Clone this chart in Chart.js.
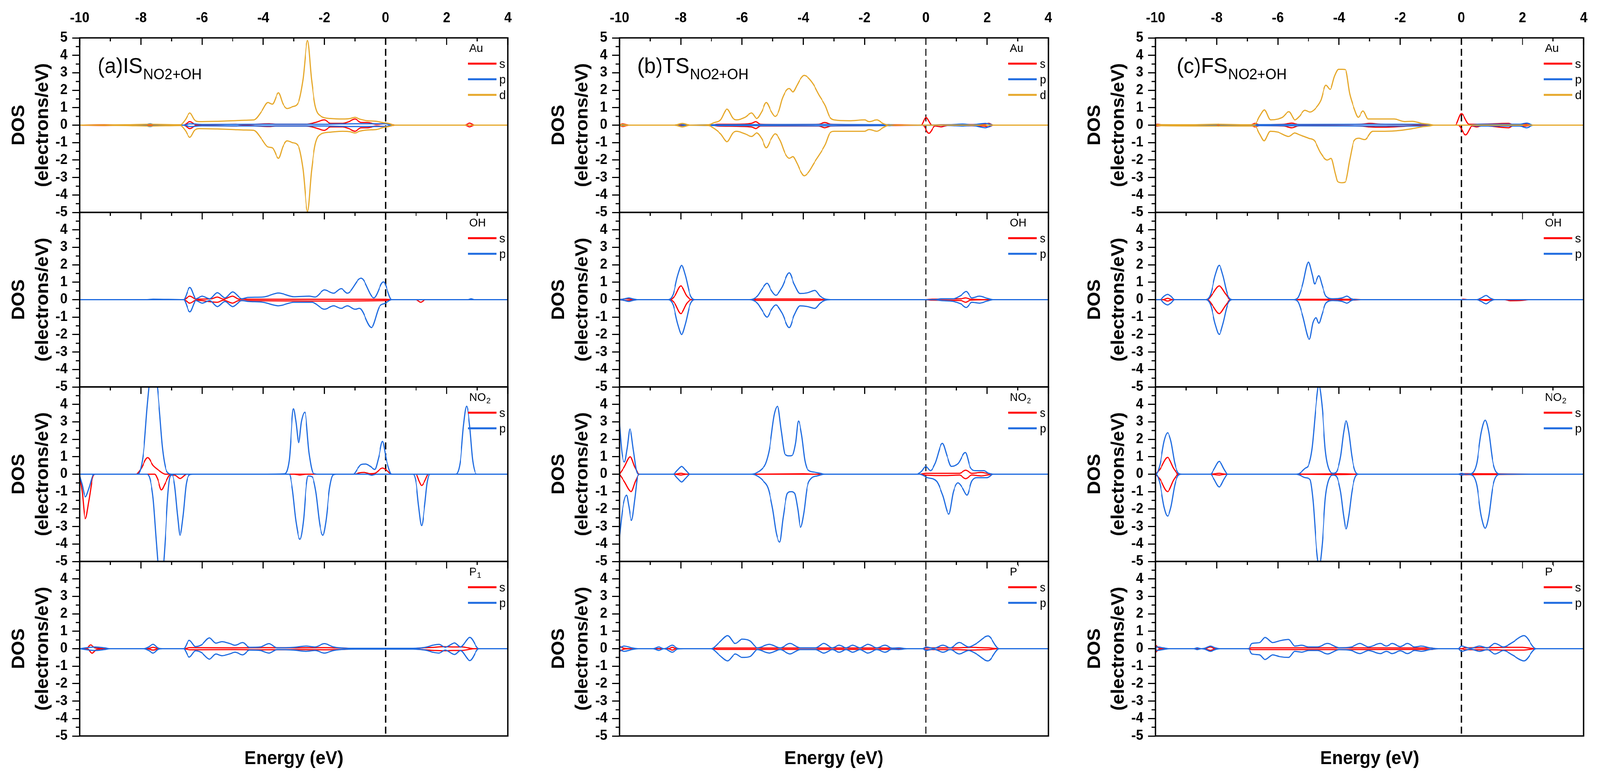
<!DOCTYPE html>
<html>
<head>
<meta charset="utf-8">
<title>PDOS NO2+OH</title>
<script src="https://cdn.jsdelivr.net/npm/chart.js@4.4.1/dist/chart.umd.min.js"></script>
<style>
html, body { margin: 0; padding: 0; background: #fff; overflow: hidden; }
#wrap { position: relative; width: 4313px; height: 2008px; overflow: hidden; transform-origin: 0 0; }
.col { position: absolute; top: 0; height: 2008px; }
</style>
</head>
<body>
<div id="wrap">
  <div class="col" style="left:0px;width:1399px"><canvas id="cA"></canvas></div>
  <div class="col" style="left:1455px;width:1401px"><canvas id="cB"></canvas></div>
  <div class="col" style="left:2900px;width:1399px"><canvas id="cC"></canvas></div>
</div>
<script>
// axis ticks
const energyTicks = [-10, -8, -6, -4, -2, 0, 2, 4];
const dosTicks = [-5, -4, -3, -2, -1, 0, 1, 2, 3, 4, 5];

// ---- (a) IS : [energy, DOS] ----
const isAuSUp = [[-10,0],[-9.2,0.02],[-8.8,0],[-6.6,0],[-6.4,0.2],[-6.2,0.02],[-4.9,0.05],[-4.6,0.02],[-3.8,0.08],[-3.6,0.05],[-2.6,0.05],[-2.3,0.15],[-2.0,0.3],[-1.8,0.1],[-1.4,0.1],[-1.2,0.2],[-1.0,0.35],[-0.8,0.15],[-0.6,0.15],[-0.3,0.05],[0.05,0.1],[0.3,0],[2.6,0],[2.75,0.12],[2.9,0],[4,0]];
const isAuSDn = [[-10,0],[-9.2,-0.02],[-8.8,0],[-6.6,0],[-6.4,-0.2],[-6.2,-0.02],[-4.9,-0.05],[-4.6,-0.02],[-3.8,-0.08],[-3.6,-0.05],[-2.6,-0.05],[-2.3,-0.15],[-2.0,-0.3],[-1.8,-0.1],[-1.4,-0.1],[-1.2,-0.2],[-1.0,-0.35],[-0.8,-0.15],[-0.6,-0.15],[-0.3,-0.05],[0.05,-0.08],[0.3,0],[2.6,0],[2.75,-0.1],[2.9,0],[4,0]];
const isAuPUp = [[-10,0],[-7.9,0],[-7.7,0.08],[-7.5,0],[-6.6,0],[-6.4,0.08],[-6.0,0.04],[-4,0.05],[-2,0.05],[-1,0.08],[0,0.08],[0.2,0],[4,0]];
const isAuPDn = [[-10,0],[-7.9,0],[-7.7,-0.08],[-7.5,0],[-6.6,0],[-6.4,-0.08],[-6.0,-0.04],[-4,-0.05],[-2,-0.05],[-1,-0.08],[0,-0.08],[0.2,0],[4,0]];
const isAuDUp = [[-10,0],[-8.5,0.02],[-7.7,0.05],[-6.7,0.02],[-6.55,0.3],[-6.4,0.7],[-6.25,0.3],[-6.1,0.2],[-5.5,0.22],[-5.0,0.25],[-4.6,0.28],[-4.3,0.3],[-4.05,0.8],[-3.85,1.3],[-3.7,1.2],[-3.5,1.85],[-3.35,1.2],[-3.22,0.95],[-3.05,1.05],[-2.85,1.3],[-2.7,2.6],[-2.55,4.85],[-2.42,2.6],[-2.3,1.1],[-2.1,0.5],[-1.8,0.38],[-1.4,0.35],[-1.15,0.38],[-1.0,0.45],[-0.85,0.35],[-0.6,0.25],[-0.3,0.22],[-0.1,0.15],[0.1,0.1],[0.3,0],[4,0]];
const isAuDDn = [[-10,0],[-8.5,-0.02],[-7.7,-0.05],[-6.7,-0.02],[-6.55,-0.3],[-6.4,-0.7],[-6.25,-0.3],[-6.1,-0.2],[-5.5,-0.22],[-5.0,-0.25],[-4.6,-0.28],[-4.3,-0.3],[-4.05,-0.8],[-3.85,-1.25],[-3.7,-1.3],[-3.5,-1.9],[-3.35,-1.2],[-3.22,-0.9],[-3.05,-1.0],[-2.85,-1.2],[-2.7,-2.5],[-2.55,-4.95],[-2.42,-2.6],[-2.3,-1.1],[-2.1,-0.5],[-1.8,-0.4],[-1.4,-0.35],[-1.15,-0.38],[-1.0,-0.45],[-0.85,-0.35],[-0.6,-0.28],[-0.3,-0.25],[-0.1,-0.15],[0.1,-0.08],[0.3,0],[4,0]];

const isOhSUp = [[-10,0],[-6.6,0],[-6.4,0.2],[-6.2,0.03],[-5.7,0.05],[-5.5,0.15],[-5.3,0.03],[-5.0,0.2],[-4.8,0.03],[-3,0.02],[0,0.02],[0.2,0],[4,0]];
const isOhSDn = [[-10,0],[-6.6,0],[-6.4,-0.2],[-6.2,-0.03],[-5.5,-0.15],[-5.3,-0.03],[-5.0,-0.2],[-4.8,-0.05],[-2.5,-0.08],[0,-0.05],[0.2,0],[1.0,0],[1.15,-0.15],[1.3,0],[4,0]];
const isOhPUp = [[-10,0],[-7.8,0],[-7.6,0.03],[-6.6,0],[-6.4,0.7],[-6.2,0.05],[-6.0,0.2],[-5.75,0.05],[-5.5,0.4],[-5.25,0.1],[-5.0,0.45],[-4.7,0.05],[-4.5,0.13],[-4.0,0.15],[-3.5,0.38],[-3.0,0.17],[-2.5,0.2],[-2.3,0.15],[-2.0,0.56],[-1.7,0.37],[-1.45,0.63],[-1.25,0.37],[-0.8,1.23],[-0.38,0.1],[-0.07,1.02],[0.2,0],[2.7,0],[2.8,0.05],[2.9,0],[4,0]];
const isOhPDn = [[-10,0],[-6.6,0],[-6.4,-0.7],[-6.2,-0.05],[-6.0,-0.2],[-5.75,-0.05],[-5.5,-0.4],[-5.25,-0.1],[-5.0,-0.4],[-4.7,-0.05],[-4.5,-0.1],[-4.0,-0.15],[-3.5,-0.35],[-3.0,-0.15],[-2.4,-0.15],[-2.0,-0.55],[-1.7,-0.35],[-1.45,-0.5],[-1.25,-0.35],[-1.0,-0.55],[-0.85,-0.5],[-0.46,-1.6],[-0.2,-0.4],[0.0,-0.2],[0.2,0],[4,0]];

const isNo2SUp = [[-10,0],[-8.15,0],[-8.0,0.3],[-7.78,0.95],[-7.6,0.5],[-7.4,0.2],[-7.2,0],[-1.0,0],[-0.85,0.08],[-0.7,0.1],[-0.5,0.03],[-0.35,0.05],[-0.1,0.35],[0.05,0.2],[0.2,0],[4,0]];
const isNo2SDn = [[-10,-0.1],[-9.92,-1.0],[-9.82,-2.55],[-9.7,-1.5],[-9.58,-0.2],[-9.5,0],[-7.55,0],[-7.45,-0.3],[-7.33,-0.9],[-7.2,-0.5],[-7.05,-0.05],[-6.9,-0.05],[-6.72,-0.25],[-6.5,0],[-3.0,0],[-2.8,-0.05],[-2.6,0],[1.0,0],[1.1,-0.4],[1.18,-0.65],[1.28,-0.4],[1.4,0],[4,0]];
const isNo2PUp = [[-10,0],[-8.1,0],[-8.0,0.35],[-7.9,1.5],[-7.8,3.8],[-7.7,5.6],[-7.6,6.3],[-7.5,5.6],[-7.4,3.8],[-7.3,1.6],[-7.2,0.4],[-7.1,0.05],[-7.0,0],[-4.0,0],[-3.3,0.02],[-3.15,0.8],[-3.01,3.75],[-2.93,3.0],[-2.84,1.8],[-2.75,3.0],[-2.64,3.55],[-2.5,1.2],[-2.36,0.05],[-2.2,0],[-1.05,0],[-0.9,0.35],[-0.8,0.55],[-0.65,0.58],[-0.5,0.45],[-0.35,0.27],[-0.22,1.0],[-0.1,1.88],[0.03,0.8],[0.2,0],[2.3,0],[2.45,0.8],[2.55,2.8],[2.65,3.9],[2.75,2.8],[2.85,0.8],[2.98,0],[4,0]];
const isNo2PDn = [[-10,-0.1],[-9.92,-0.6],[-9.82,-1.3],[-9.7,-0.8],[-9.58,-0.1],[-9.5,0],[-7.8,0],[-7.7,-0.3],[-7.6,-1.4],[-7.5,-3.8],[-7.42,-5.6],[-7.35,-6.3],[-7.28,-5.6],[-7.2,-3.6],[-7.12,-1.2],[-7.05,-0.15],[-6.98,-0.05],[-6.9,-0.6],[-6.8,-2.4],[-6.72,-3.5],[-6.62,-2.4],[-6.52,-0.6],[-6.42,-0.05],[-6.3,0],[-3.15,0],[-3.05,-0.8],[-2.93,-2.7],[-2.8,-3.73],[-2.68,-2.6],[-2.6,-0.8],[-2.53,-0.1],[-2.4,-0.15],[-2.28,-1.0],[-2.15,-2.9],[-2.05,-3.5],[-1.95,-2.7],[-1.83,-0.8],[-1.72,-0.05],[-1.6,0],[-0.6,0],[-0.45,-0.06],[-0.3,0],[0.9,0],[1.0,-0.5],[1.08,-1.8],[1.18,-2.95],[1.28,-1.8],[1.36,-0.5],[1.45,0],[4,0]];

const isP1SUp = [[-10,0],[-9.78,0],[-9.65,0.22],[-9.5,0.05],[-9.3,0.02],[-9.1,0],[-7.8,0],[-7.6,0.08],[-7.4,0],[-6.6,0],[-6.4,0.06],[-5,0.05],[-4,0.06],[-3,0.05],[-2,0.06],[-1.2,0.02],[-1,0],[0.8,0],[1.2,0.05],[1.6,0.08],[1.9,0.12],[2.2,0.1],[2.5,0.1],[2.7,0.05],[2.9,0],[4,0]];
const isP1SDn = [[-10,0],[-9.75,0],[-9.6,-0.26],[-9.45,-0.05],[-9.1,0],[-7.8,0],[-7.6,-0.08],[-7.4,0],[-6.6,0],[-6.4,-0.06],[-5,-0.05],[-4,-0.06],[-3,-0.05],[-2,-0.06],[-1.2,-0.02],[-1,0],[0.8,0],[1.2,-0.05],[1.6,-0.1],[1.9,-0.12],[2.2,-0.1],[2.5,-0.1],[2.7,-0.05],[2.9,0],[4,0]];
const isP1PUp = [[-10,0],[-9.8,0.05],[-9.5,0.1],[-9.2,0.05],[-9.0,0],[-7.9,0],[-7.75,0.1],[-7.6,0.25],[-7.45,0.05],[-7.3,0],[-6.6,0],[-6.42,0.48],[-6.22,0.12],[-6.02,0.22],[-5.76,0.62],[-5.55,0.32],[-5.35,0.4],[-5.1,0.3],[-4.92,0.2],[-4.67,0.35],[-4.45,0.08],[-4.1,0.1],[-3.81,0.29],[-3.55,0.05],[-3.0,0.08],[-2.6,0.15],[-2.3,0.1],[-2.0,0.29],[-1.7,0.1],[-1.3,0.03],[-1.0,0.02],[0.0,0.02],[0.9,0.02],[1.3,0.08],[1.55,0.2],[1.75,0.25],[1.95,0.08],[2.26,0.33],[2.45,0.1],[2.76,0.65],[3.05,0],[4,0]];
const isP1PDn = [[-10,0],[-9.8,-0.05],[-9.5,-0.1],[-9.2,-0.05],[-9.0,0],[-7.9,0],[-7.75,-0.1],[-7.6,-0.25],[-7.45,-0.05],[-7.3,0],[-6.6,0],[-6.42,-0.48],[-6.22,-0.12],[-6.02,-0.22],[-5.76,-0.6],[-5.55,-0.3],[-5.35,-0.4],[-5.1,-0.3],[-4.92,-0.2],[-4.67,-0.35],[-4.45,-0.08],[-4.1,-0.1],[-3.81,-0.25],[-3.55,-0.05],[-3.0,-0.08],[-2.6,-0.15],[-2.3,-0.1],[-2.0,-0.25],[-1.7,-0.1],[-1.3,-0.03],[-1.0,-0.02],[0.0,-0.02],[0.9,-0.02],[1.3,-0.08],[1.55,-0.2],[1.75,-0.25],[1.95,-0.08],[2.26,-0.33],[2.45,-0.1],[2.76,-0.68],[3.05,0],[4,0]];

// ---- (b) TS ----
const tsAuSUp = [[-10,0],[-9.9,0.08],[-9.7,0],[-7.0,0],[-6.8,0.05],[-6.2,0.05],[-5.7,0.1],[-5.55,0.2],[-5.4,0.05],[-4.5,0.03],[-3.5,0.05],[-3.3,0.15],[-3.1,0.05],[-2.2,0.02],[-1.2,0.02],[-0.15,0],[0.0,0.45],[0.2,0],[0.6,0.02],[1.2,0.03],[1.9,0.05],[2.05,0.1],[2.2,0],[4,0]];
const tsAuSDn = [[-10,0],[-9.9,-0.08],[-9.7,0],[-7.0,0],[-6.8,-0.05],[-5.7,-0.1],[-5.55,-0.2],[-5.4,-0.05],[-3.5,-0.05],[-3.3,-0.15],[-3.1,-0.05],[-1.2,-0.02],[-0.1,0],[0.1,-0.47],[0.3,-0.05],[0.5,-0.1],[0.7,-0.02],[1.9,-0.05],[2.05,-0.1],[2.2,0],[4,0]];
const tsAuPUp = [[-10,0],[-8.2,0],[-8.0,0.05],[-7.8,0],[-7.0,0.02],[-4,0.04],[-1.2,0.03],[-1.0,0],[0.8,0.02],[1.2,0.06],[1.5,0.02],[1.95,0.1],[2.1,0.05],[2.2,0],[4,0]];
const tsAuPDn = [[-10,0],[-8.2,0],[-8.0,-0.05],[-7.8,0],[-7.0,-0.02],[-4,-0.04],[-1.2,-0.03],[-1.0,0],[0.8,-0.02],[1.2,-0.05],[1.5,-0.02],[1.95,-0.15],[2.1,-0.05],[2.2,0],[4,0]];
const tsAuDUp = [[-10,0],[-9.9,0.05],[-9.7,0],[-8.2,0],[-7.95,0.1],[-7.7,0],[-7.1,0.02],[-6.9,0.15],[-6.7,0.3],[-6.49,0.92],[-6.3,0.4],[-6.18,0.3],[-5.9,0.45],[-5.69,0.7],[-5.52,0.38],[-5.35,0.8],[-5.21,1.3],[-5.05,0.8],[-4.92,0.5],[-4.8,0.8],[-4.69,1.5],[-4.55,2.0],[-4.46,2.1],[-4.34,1.9],[-4.2,2.3],[-4.11,2.6],[-3.97,2.85],[-3.83,2.7],[-3.66,2.3],[-3.48,1.7],[-3.28,1.1],[-3.15,0.5],[-3.0,0.3],[-2.5,0.25],[-2.0,0.3],[-1.85,0.2],[-1.6,0.3],[-1.4,0.1],[-1.2,0],[4,0]];
const tsAuDDn = [[-10,0],[-9.9,-0.05],[-9.7,0],[-8.2,0],[-7.95,-0.1],[-7.7,0],[-7.1,-0.02],[-6.9,-0.2],[-6.7,-0.5],[-6.49,-0.95],[-6.3,-0.45],[-6.18,-0.35],[-5.9,-0.5],[-5.69,-0.65],[-5.52,-0.45],[-5.35,-0.8],[-5.21,-1.3],[-5.05,-0.8],[-4.92,-0.5],[-4.75,-0.9],[-4.6,-1.6],[-4.46,-1.9],[-4.34,-1.8],[-4.2,-2.2],[-4.1,-2.6],[-3.97,-2.9],[-3.83,-2.7],[-3.66,-2.2],[-3.48,-1.7],[-3.28,-1.1],[-3.15,-0.5],[-3.0,-0.35],[-2.5,-0.35],[-2.0,-0.35],[-1.85,-0.25],[-1.6,-0.35],[-1.4,-0.15],[-1.2,0],[4,0]];

const tsOhSUp = [[-10,0],[-9.75,0.05],[-9.5,0],[-8.35,0],[-8.2,0.2],[-8.0,0.79],[-7.8,0.2],[-7.65,0],[-5.7,0],[-5.5,0.04],[-3.5,0.04],[-3.3,0],[0,0],[0.2,0.03],[1.15,0.05],[1.3,0.1],[1.45,0.03],[2.2,0],[4,0]];
const tsOhSDn = [[-10,0],[-9.75,-0.05],[-9.5,0],[-8.35,0],[-8.2,-0.2],[-8.0,-0.8],[-7.8,-0.2],[-7.65,0],[-5.7,0],[-5.5,-0.04],[-3.5,-0.04],[-3.3,0],[0,0],[0.2,-0.03],[1.15,-0.05],[1.3,-0.15],[1.45,-0.03],[2.2,0],[4,0]];
const tsOhPUp = [[-10,0],[-9.85,0.04],[-9.7,0.1],[-9.55,0.04],[-9.4,0],[-8.4,0],[-8.25,0.3],[-8.1,1.4],[-7.97,1.97],[-7.85,1.4],[-7.7,0.3],[-7.55,0],[-5.75,0],[-5.5,0.2],[-5.35,0.6],[-5.18,0.94],[-5.05,0.55],[-4.9,0.25],[-4.7,0.7],[-4.46,1.54],[-4.3,0.9],[-4.11,0.35],[-3.85,0.4],[-3.62,0.53],[-3.45,0.2],[-3.31,0.05],[-3.1,0],[0.3,0],[0.5,0.05],[0.9,0.05],[1.15,0.25],[1.32,0.47],[1.5,0.1],[1.75,0.2],[2.0,0.08],[2.2,0],[4,0]];
const tsOhPDn = [[-10,0],[-9.85,-0.04],[-9.7,-0.1],[-9.55,-0.04],[-9.4,0],[-8.4,0],[-8.25,-0.3],[-8.1,-1.4],[-7.97,-2.0],[-7.85,-1.4],[-7.7,-0.3],[-7.55,0],[-5.75,0],[-5.5,-0.2],[-5.35,-0.6],[-5.18,-1.0],[-5.05,-0.6],[-4.9,-0.3],[-4.7,-0.75],[-4.46,-1.6],[-4.3,-0.9],[-4.11,-0.35],[-3.85,-0.4],[-3.62,-0.5],[-3.45,-0.2],[-3.31,-0.05],[-3.1,0],[0.3,0],[0.5,-0.05],[0.9,-0.1],[1.15,-0.25],[1.32,-0.45],[1.5,-0.15],[1.75,-0.2],[2.0,-0.08],[2.2,0],[4,0]];

const tsNo2SUp = [[-10,0],[-9.85,0.4],[-9.65,1.0],[-9.5,0.4],[-9.35,0],[-8.2,0],[-8.0,0.05],[-7.8,0],[-5.6,0],[-4,0.02],[-3.6,0],[-0.2,0],[0.0,0.05],[0.6,0.05],[1.1,0.05],[1.3,0.23],[1.5,0.05],[1.8,0.1],[2.0,0.05],[2.2,0],[4,0]];
const tsNo2SDn = [[-10,0],[-9.85,-0.4],[-9.62,-1.0],[-9.48,-0.4],[-9.35,0],[-8.2,0],[-8.0,-0.05],[-7.8,0],[-0.2,0],[0.0,-0.05],[0.6,-0.08],[1.1,-0.05],[1.3,-0.26],[1.5,-0.05],[1.8,-0.1],[2.0,-0.05],[2.2,0],[4,0]];
const tsNo2PUp = [[-10,2.9],[-9.92,1.2],[-9.84,0.7],[-9.75,1.5],[-9.66,2.59],[-9.55,1.4],[-9.45,0.2],[-9.38,0],[-8.25,0],[-8.1,0.25],[-7.97,0.45],[-7.85,0.25],[-7.7,0],[-5.7,0],[-5.5,0.1],[-5.35,0.3],[-5.23,0.6],[-5.1,1.5],[-4.95,3.4],[-4.84,3.89],[-4.72,2.5],[-4.6,1.15],[-4.45,1.05],[-4.35,1.1],[-4.25,1.8],[-4.16,3.05],[-4.05,2.2],[-3.95,0.8],[-3.85,0.25],[-3.65,0.12],[-3.45,0.05],[-3.3,0],[-0.3,0],[-0.15,0.15],[0.0,0.45],[0.15,0.2],[0.3,0.6],[0.54,1.77],[0.7,1.0],[0.83,0.45],[1.05,0.6],[1.29,1.24],[1.45,0.4],[1.6,0.2],[1.9,0.2],[2.05,0.05],[2.2,0],[4,0]];
const tsNo2PDn = [[-10,-3.6],[-9.9,-2.0],[-9.77,-1.2],[-9.7,-1.8],[-9.61,-2.65],[-9.5,-1.4],[-9.42,-0.2],[-9.35,0],[-8.25,0],[-8.1,-0.25],[-7.97,-0.45],[-7.85,-0.25],[-7.7,0],[-5.7,0],[-5.5,-0.1],[-5.3,-0.4],[-5.15,-0.8],[-5.0,-2.0],[-4.88,-3.4],[-4.77,-3.89],[-4.66,-2.5],[-4.52,-1.1],[-4.4,-1.0],[-4.28,-1.1],[-4.18,-2.0],[-4.09,-3.04],[-3.98,-2.2],[-3.88,-0.8],[-3.75,-0.25],[-3.55,-0.1],[-3.3,0],[-0.2,0],[0.05,-0.2],[0.35,-0.4],[0.55,-1.2],[0.75,-2.29],[0.9,-1.0],[1.05,-0.5],[1.2,-0.8],[1.34,-1.2],[1.5,-0.4],[1.65,-0.2],[2.0,-0.2],[2.2,0],[4,0]];

const tsPSUp = [[-10,0.15],[-9.9,0.05],[-9.7,0],[-8.4,0],[-8.28,0.08],[-8.15,0],[-7.0,0],[-6.8,0.04],[-4,0.04],[-1.5,0.04],[-0.9,0.02],[-0.7,0],[-0.1,0],[0.0,0.05],[0.5,0.05],[1.0,0.05],[1.5,0.08],[1.8,0.06],[2.05,0.05],[2.35,0],[4,0]];
const tsPSDn = [[-10,-0.15],[-9.9,-0.05],[-9.7,0],[-8.4,0],[-8.28,-0.08],[-8.15,0],[-7.0,0],[-6.8,-0.04],[-4,-0.04],[-1.5,-0.04],[-0.9,-0.02],[-0.7,0],[-0.1,0],[0.0,-0.05],[0.5,-0.05],[1.0,-0.05],[1.5,-0.08],[1.8,-0.06],[2.05,-0.05],[2.35,0],[4,0]];
const tsPPUp = [[-10,0.05],[-9.85,0.15],[-9.6,0.05],[-9.4,0],[-8.9,0],[-8.72,0.1],[-8.55,0],[-8.45,0.05],[-8.28,0.2],[-8.1,0.02],[-7.9,0],[-7.0,0],[-6.75,0.35],[-6.47,0.75],[-6.22,0.3],[-6.0,0.55],[-5.74,0.45],[-5.5,0.05],[-5.11,0.25],[-4.75,0.05],[-4.44,0.3],[-4.1,0.05],[-3.6,0.05],[-3.33,0.3],[-3.05,0.05],[-2.83,0.2],[-2.6,0.05],[-2.39,0.2],[-2.15,0.05],[-1.89,0.25],[-1.6,0.05],[-1.33,0.2],[-1.1,0.03],[-0.89,0.05],[-0.6,0],[-0.1,0],[0.0,0.1],[0.25,0.02],[0.56,0.2],[0.8,0.05],[1.09,0.36],[1.4,0.1],[1.65,0.3],[2.03,0.73],[2.39,0],[4,0]];
const tsPPDn = [[-10,-0.05],[-9.85,-0.15],[-9.6,-0.05],[-9.4,0],[-8.9,0],[-8.72,-0.1],[-8.55,0],[-8.45,-0.05],[-8.28,-0.2],[-8.1,-0.02],[-7.9,0],[-7.0,0],[-6.75,-0.35],[-6.47,-0.7],[-6.22,-0.3],[-6.0,-0.5],[-5.74,-0.45],[-5.5,-0.05],[-5.11,-0.25],[-4.75,-0.05],[-4.44,-0.3],[-4.1,-0.05],[-3.6,-0.05],[-3.33,-0.25],[-3.05,-0.05],[-2.83,-0.2],[-2.6,-0.05],[-2.39,-0.2],[-2.15,-0.05],[-1.89,-0.25],[-1.6,-0.05],[-1.33,-0.2],[-1.1,-0.03],[-0.89,-0.05],[-0.6,0],[-0.1,0],[0.0,-0.1],[0.25,-0.02],[0.56,-0.2],[0.8,-0.05],[1.09,-0.3],[1.4,-0.1],[1.65,-0.3],[2.03,-0.7],[2.39,0],[4,0]];

// ---- (c) FS ----
const fsAuSUp = [[-10,0],[-9.95,0.05],[-9.7,0],[-6.9,0],[-6.75,0.1],[-6.6,0.02],[-5.8,0.05],[-5.55,0.12],[-5.3,0.03],[-3.3,0.05],[-3.0,0.1],[-2.6,0.05],[-1.5,0.03],[-1.1,0],[-0.2,0],[0.0,0.66],[0.25,0.05],[0.5,0.05],[1.55,0.1],[1.7,0.02],[2.1,0.05],[2.3,0],[4,0]];
const fsAuSDn = [[-10,0],[-9.95,-0.05],[-9.7,0],[-6.9,0],[-6.75,-0.1],[-6.6,-0.02],[-5.8,-0.05],[-5.55,-0.15],[-5.3,-0.03],[-3.3,-0.05],[-3.0,-0.1],[-2.6,-0.12],[-1.5,-0.03],[-1.1,0],[-0.1,0],[0.14,-0.56],[0.35,-0.05],[0.5,-0.1],[0.7,-0.03],[1.55,-0.15],[1.7,-0.02],[2.1,-0.05],[2.3,0],[4,0]];
const fsAuPUp = [[-10,0],[-8.1,0],[-7.95,0.05],[-7.8,0],[-6.9,0],[-6.7,0.03],[-3,0.05],[-1.2,0.05],[-1.0,0],[0.2,0],[0.6,0.05],[1.5,0.05],[1.9,0.05],[2.14,0.12],[2.35,0],[4,0]];
const fsAuPDn = [[-10,0],[-8.1,0],[-7.95,-0.05],[-7.8,0],[-6.9,0],[-6.7,-0.03],[-3,-0.05],[-1.2,-0.05],[-1.0,0],[0.2,0],[0.6,-0.05],[1.5,-0.05],[1.9,-0.05],[2.14,-0.15],[2.35,0],[4,0]];
const fsAuDUp = [[-10,0],[-9.9,0.03],[-8.9,0.02],[-8.0,0.05],[-7.0,0.02],[-6.75,0.05],[-6.6,0.5],[-6.44,0.88],[-6.24,0.3],[-6.0,0.35],[-5.85,0.45],[-5.64,0.77],[-5.44,0.3],[-5.3,0.5],[-5.12,0.85],[-4.95,0.75],[-4.8,0.9],[-4.6,1.4],[-4.43,2.29],[-4.29,2.05],[-4.15,2.8],[-4.02,3.2],[-3.9,3.2],[-3.79,3.18],[-3.65,1.8],[-3.51,0.98],[-3.37,0.45],[-3.22,0.81],[-3.05,0.35],[-2.6,0.35],[-2.2,0.35],[-1.85,0.2],[-1.6,0.22],[-1.3,0.1],[-1.05,0.05],[-0.9,0],[4,0]];
const fsAuDDn = [[-10,0],[-9.9,-0.03],[-8.0,-0.05],[-6.75,-0.05],[-6.6,-0.5],[-6.45,-0.9],[-6.25,-0.35],[-6.0,-0.4],[-5.65,-0.65],[-5.45,-0.45],[-5.3,-0.55],[-5.0,-0.75],[-4.8,-0.9],[-4.6,-1.6],[-4.39,-2.0],[-4.26,-1.9],[-4.12,-2.8],[-4.05,-3.23],[-3.9,-3.3],[-3.79,-3.25],[-3.65,-2.0],[-3.51,-0.9],[-3.35,-0.75],[-3.16,-0.83],[-2.9,-0.35],[-2.5,-0.35],[-2.0,-0.3],[-1.6,-0.2],[-1.3,-0.1],[-1.05,-0.05],[-0.9,0],[4,0]];

const fsOhSUp = [[-10,0],[-9.75,0],[-9.61,0.08],[-9.45,0],[-8.3,0],[-8.15,0.3],[-7.92,0.79],[-7.7,0.3],[-7.55,0],[-5.4,0],[-5.2,0.02],[-3.5,0.02],[-3.3,0],[0,0],[0.05,0.03],[0.2,0],[4,0]];
const fsOhSDn = [[-10,0],[-9.75,0],[-9.61,-0.08],[-9.45,0],[-8.3,0],[-8.15,-0.3],[-7.92,-0.8],[-7.7,-0.3],[-7.55,0],[-5.4,0],[-5.2,-0.02],[-3.5,-0.02],[-3.3,0],[0.6,0],[0.8,-0.05],[1.0,0],[1.4,0],[1.6,-0.06],[2.0,-0.04],[2.2,0],[4,0]];
const fsOhPUp = [[-10,0],[-9.85,0],[-9.72,0.2],[-9.61,0.3],[-9.5,0.2],[-9.38,0],[-8.35,0],[-8.2,0.3],[-8.05,1.4],[-7.92,1.97],[-7.8,1.4],[-7.65,0.3],[-7.5,0],[-5.5,0],[-5.35,0.1],[-5.2,0.8],[-5.0,2.16],[-4.87,1.4],[-4.8,0.9],[-4.66,1.37],[-4.55,0.8],[-4.43,0.2],[-4.2,0.05],[-3.9,0.1],[-3.74,0.2],[-3.6,0.05],[-3.4,0],[0.5,0],[0.65,0.1],[0.81,0.24],[0.95,0.08],[1.1,0],[4,0]];
const fsOhPDn = [[-10,0],[-9.85,0],[-9.72,-0.2],[-9.61,-0.3],[-9.5,-0.2],[-9.38,0],[-8.35,0],[-8.2,-0.3],[-8.05,-1.4],[-7.92,-1.99],[-7.8,-1.4],[-7.65,-0.3],[-7.5,0],[-5.5,0],[-5.35,-0.1],[-5.2,-0.85],[-4.97,-2.27],[-4.85,-1.3],[-4.75,-1.03],[-4.66,-1.35],[-4.55,-0.8],[-4.43,-0.2],[-4.2,-0.05],[-3.9,-0.1],[-3.74,-0.2],[-3.6,-0.05],[-3.4,0],[0.5,0],[0.65,-0.1],[0.81,-0.24],[0.95,-0.08],[1.1,0],[4,0]];

const fsNo2SUp = [[-10,0],[-9.85,0.3],[-9.61,0.96],[-9.4,0.3],[-9.25,0],[-8.2,0],[-7.92,0.05],[-7.7,0],[-5.4,0],[-4,0.02],[-3.3,0],[-0.1,0],[0.1,0.03],[1.0,0.02],[2.3,0],[4,0]];
const fsNo2SDn = [[-10,0],[-9.85,-0.3],[-9.61,-1.0],[-9.4,-0.3],[-9.25,0],[-8.2,0],[-7.92,-0.05],[-7.7,0],[-5.4,0],[-4,-0.02],[-3.3,0],[-0.1,0],[0.1,-0.03],[1.0,-0.02],[2.3,0],[4,0]];
const fsNo2PUp = [[-10,0],[-9.95,0.05],[-9.85,0.6],[-9.72,1.9],[-9.61,2.37],[-9.5,1.9],[-9.37,0.6],[-9.25,0.05],[-9.15,0],[-8.2,0],[-8.1,0.25],[-7.92,0.73],[-7.75,0.25],[-7.65,0],[-5.4,0],[-5.29,0.05],[-5.1,0.35],[-5.0,0.5],[-4.88,1.5],[-4.75,4.0],[-4.66,5.1],[-4.55,3.8],[-4.45,1.4],[-4.37,0.5],[-4.2,0.05],[-4.1,0.1],[-3.95,1.0],[-3.85,2.4],[-3.77,3.06],[-3.68,2.4],[-3.58,1.0],[-3.48,0.2],[-3.35,0],[-0.1,0],[0.0,0.05],[0.15,0],[0.35,0.05],[0.5,0.6],[0.65,2.4],[0.78,3.1],[0.9,2.4],[1.02,0.8],[1.15,0.1],[1.3,0],[4,0]];
const fsNo2PDn = [[-10,0],[-9.95,-0.05],[-9.85,-0.6],[-9.72,-1.9],[-9.61,-2.4],[-9.5,-1.9],[-9.37,-0.6],[-9.25,-0.05],[-9.15,0],[-8.2,0],[-8.1,-0.25],[-7.92,-0.73],[-7.75,-0.25],[-7.65,0],[-5.4,0],[-5.29,-0.05],[-5.1,-0.2],[-4.95,-0.3],[-4.85,-1.5],[-4.74,-4.2],[-4.65,-5.3],[-4.55,-4.0],[-4.45,-1.4],[-4.37,-0.5],[-4.2,-0.05],[-4.1,-0.1],[-3.95,-1.0],[-3.85,-2.4],[-3.77,-3.14],[-3.68,-2.4],[-3.58,-1.0],[-3.48,-0.2],[-3.35,0],[-0.1,0],[0.0,-0.05],[0.15,0],[0.35,-0.05],[0.5,-0.6],[0.65,-2.4],[0.78,-3.1],[0.9,-2.4],[1.02,-0.8],[1.15,-0.1],[1.3,0],[4,0]];

const fsPSUp = [[-10,0.22],[-9.9,0.05],[-9.75,0],[-8.4,0],[-8.21,0.1],[-8.05,0],[-7.0,0],[-6.85,0.05],[-4,0.05],[-1.0,0.04],[-0.8,0],[0.0,0],[0.1,0.05],[1.0,0.06],[1.5,0.08],[2.0,0.08],[2.3,0.02],[2.4,0],[4,0]];
const fsPSDn = [[-10,-0.22],[-9.9,-0.05],[-9.75,0],[-8.4,0],[-8.21,-0.1],[-8.05,0],[-7.0,0],[-6.85,-0.05],[-4,-0.05],[-1.0,-0.04],[-0.8,0],[0.0,0],[0.1,-0.05],[1.0,-0.06],[1.5,-0.08],[2.0,-0.08],[2.3,-0.02],[2.4,0],[4,0]];
const fsPPUp = [[-10,0],[-9.95,0.1],[-9.75,0.05],[-9.55,0],[-8.75,0],[-8.64,0.05],[-8.5,0],[-8.35,0.05],[-8.21,0.15],[-8.05,0.05],[-7.9,0],[-6.96,0],[-6.85,0.3],[-6.6,0.35],[-6.42,0.65],[-6.17,0.35],[-5.95,0.45],[-5.65,0.53],[-5.45,0.15],[-5.22,0.2],[-5.0,0.1],[-4.7,0.1],[-4.38,0.3],[-3.99,0.05],[-3.6,0.1],[-3.32,0.3],[-3.04,0.1],[-2.65,0.3],[-2.45,0.15],[-2.26,0.3],[-2.0,0.12],[-1.76,0.3],[-1.53,0.1],[-1.31,0.15],[-1.03,0.05],[-0.75,0],[-0.1,0],[0.0,0.15],[0.3,0.02],[0.59,0.15],[0.85,0.05],[1.1,0.3],[1.38,0.1],[1.66,0.35],[2.05,0.75],[2.44,0],[4,0]];
const fsPPDn = [[-10,0],[-9.95,-0.1],[-9.75,-0.05],[-9.55,0],[-8.75,0],[-8.64,-0.05],[-8.5,0],[-8.35,-0.05],[-8.21,-0.15],[-8.05,-0.05],[-7.9,0],[-6.96,0],[-6.85,-0.3],[-6.6,-0.35],[-6.42,-0.62],[-6.17,-0.35],[-5.95,-0.45],[-5.65,-0.5],[-5.45,-0.15],[-5.22,-0.2],[-5.0,-0.1],[-4.7,-0.1],[-4.38,-0.3],[-3.99,-0.05],[-3.6,-0.1],[-3.32,-0.28],[-3.04,-0.1],[-2.65,-0.28],[-2.45,-0.15],[-2.26,-0.28],[-2.0,-0.12],[-1.76,-0.28],[-1.53,-0.1],[-1.31,-0.15],[-1.03,-0.05],[-0.75,0],[-0.1,0],[0.0,-0.15],[0.3,-0.02],[0.59,-0.15],[0.85,-0.05],[1.1,-0.3],[1.38,-0.1],[1.66,-0.35],[2.05,-0.7],[2.44,0],[4,0]];

const orbColor = { s: '#FF0000', p: '#1E6BE0', d: '#E6A82A' };
const orbOrder = { s: 3, p: 2, d: 1 };
const FONT = "'Liberation Sans', Arial, sans-serif";
Chart.defaults.font.family = FONT;
Chart.defaults.color = '#000';

// the layout is drawn on a 4313x2008 board; fit it to whatever viewport we get
const wrap = document.getElementById('wrap');
const sx = (window.innerWidth || 4313) / 4313;
const sy = (window.innerHeight || 2008) / 2008;
if (Math.abs(sx - 1) > 0.001 || Math.abs(sy - 1) > 0.001) {
    wrap.style.transform = 'scale(' + sx + ',' + sy + ')';
}

const columns = [
    { id: 'cA', title: '(a)IS', titleSub: 'NO2+OH', titleDx: 48, panels: [
        { label: ['Au'], curves: [['s', isAuSUp, isAuSDn], ['p', isAuPUp, isAuPDn], ['d', isAuDUp, isAuDDn]] },
        { label: ['OH'], curves: [['s', isOhSUp, isOhSDn], ['p', isOhPUp, isOhPDn]] },
        { label: ['NO', '2', 'sub'], curves: [['s', isNo2SUp, isNo2SDn], ['p', isNo2PUp, isNo2PDn]] },
        { label: ['P', '1', 'sub'], curves: [['s', isP1SUp, isP1SDn], ['p', isP1PUp, isP1PDn]] },
    ] },
    { id: 'cB', title: '(b)TS', titleSub: 'NO2+OH', titleDx: 48, panels: [
        { label: ['Au'], curves: [['s', tsAuSUp, tsAuSDn], ['p', tsAuPUp, tsAuPDn], ['d', tsAuDUp, tsAuDDn]] },
        { label: ['OH'], curves: [['s', tsOhSUp, tsOhSDn], ['p', tsOhPUp, tsOhPDn]] },
        { label: ['NO', '2', 'sub'], curves: [['s', tsNo2SUp, tsNo2SDn], ['p', tsNo2PUp, tsNo2PDn]] },
        { label: ['P', "'", 'sup'], curves: [['s', tsPSUp, tsPSDn], ['p', tsPPUp, tsPPDn]] },
    ] },
    { id: 'cC', title: '(c)FS', titleSub: 'NO2+OH', titleDx: 57, panels: [
        { label: ['Au'], curves: [['s', fsAuSUp, fsAuSDn], ['p', fsAuPUp, fsAuPDn], ['d', fsAuDUp, fsAuDDn]] },
        { label: ['OH'], curves: [['s', fsOhSUp, fsOhSDn], ['p', fsOhPUp, fsOhPDn]] },
        { label: ['NO', '2', 'sub'], curves: [['s', fsNo2SUp, fsNo2SDn], ['p', fsNo2PUp, fsNo2PDn]] },
        { label: ['P', "'", 'sup'], curves: [['s', fsPSUp, fsPSDn], ['p', fsPPUp, fsPPDn]] },
    ] },
];

function line(ctx, x1, y1, x2, y2) {
    ctx.beginPath();
    ctx.moveTo(x1, y1);
    ctx.lineTo(x2, y2);
    ctx.stroke();
}

// panel frames, inner ticks, Fermi line and the in-panel texts
const panelDecor = {
    id: 'panelDecor',
    beforeDatasetsDraw(chart) {
        const { ctx, chartArea } = chart;
        const x0 = chart.scales.x.getPixelForValue(0);
        ctx.save();
        ctx.strokeStyle = '#000';
        ctx.lineWidth = 3.5;
        ctx.setLineDash([18, 10]);
        line(ctx, x0, chartArea.top, x0, chartArea.bottom);
        ctx.restore();
    },
    afterDraw(chart, args, opts) {
        const { ctx } = chart;
        const col = opts.col;
        const xs = chart.scales.x;
        ctx.save();
        ctx.strokeStyle = '#000';
        ctx.fillStyle = '#000';
        col.panels.forEach((pn, k) => {
            const ys = chart.scales['y' + k];
            ctx.lineWidth = 3;
            for (let v = -4.5; v < 5; v += 1) {
                const py = ys.getPixelForValue(v);
                line(ctx, ys.right - 11, py, ys.right, py);
            }
            for (let e = -10; e <= 4; e += 1) {
                const px = xs.getPixelForValue(e);
                line(ctx, px, ys.top, px, ys.top + (e % 2 === 0 ? 18 : 9));
            }
            ctx.lineWidth = 3.5;
            ctx.strokeRect(xs.left, ys.top, xs.right - xs.left, ys.bottom - ys.top);

            // species label
            ctx.textBaseline = 'alphabetic';
            ctx.textAlign = 'left';
            ctx.font = '30px ' + FONT;
            const lx = xs.right - 104;
            ctx.fillText(pn.label[0], lx, ys.top + 36);
            if (pn.label[1]) {
                const w = ctx.measureText(pn.label[0]).width;
                ctx.font = '20px ' + FONT;
                ctx.fillText(pn.label[1], lx + w + 1, ys.top + 36 + (pn.label[2] === 'sub' ? 6 : -14));
            }
            // legend entries
            pn.curves.forEach(([orb], i) => {
                const ly = ys.top + 66 + 40 * i;
                ctx.strokeStyle = orbColor[orb];
                ctx.lineWidth = 5;
                line(ctx, xs.right - 108, ly, xs.right - 31, ly);
                ctx.font = '31px ' + FONT;
                ctx.textBaseline = 'middle';
                ctx.fillText(orb, xs.right - 23, ly + 2);
                ctx.textBaseline = 'alphabetic';
            });
            ctx.strokeStyle = '#000';
        });
        // panel title
        const top = chart.scales.y0.top;
        const tx = xs.left + col.titleDx;
        ctx.font = '56px ' + FONT;
        ctx.fillText(col.title, tx, top + 90);
        const tw = ctx.measureText(col.title).width;
        ctx.font = '38px ' + FONT;
        ctx.fillText(col.titleSub, tx + tw + 2, top + 106);
        ctx.restore();
    }
};

function buildChart(col) {
    const datasets = [];
    col.panels.forEach((pn, k) => {
        pn.curves.forEach(([orb, up, dn]) => {
            [up, dn].forEach((data) => {
                datasets.push({
                    data,
                    xAxisID: 'x',
                    yAxisID: 'y' + k,
                    borderColor: orbColor[orb],
                    borderWidth: 3,
                    pointRadius: 0,
                    fill: false,
                    cubicInterpolationMode: 'monotone',
                    order: orbOrder[orb],
                });
            });
        });
    });

    const scales = {
        x: {
            type: 'linear', position: 'top', min: -10, max: 4,
            afterBuildTicks: (s) => { s.ticks = energyTicks.map((v) => ({ value: v })); },
            ticks: { autoSkip: false, maxRotation: 0, padding: 20, color: '#000', font: { size: 36, weight: 'bold' } },
            grid: { display: false },
            border: { display: false },
            afterFit: (s) => { s.height = 97; },
        },
        xb: {
            type: 'linear', position: 'bottom', min: -10, max: 4,
            ticks: { display: false },
            grid: { display: false },
            border: { display: false },
            title: { display: true, text: 'Energy (eV)', color: '#000', font: { size: 48, weight: 'bold' }, padding: { top: 0, bottom: 35 } },
            afterFit: (s) => { s.height = 123; },
        },
    };
    col.panels.forEach((pn, k) => {
        scales['y' + k] = {
            type: 'linear', position: 'left', stack: 'dos', stackWeight: 1, weight: 4 - k,
            min: -5, max: 5,
            afterBuildTicks: (s) => { s.ticks = dosTicks.map((v) => ({ value: v })); },
            ticks: {
                autoSkip: false, padding: 13, color: '#000', font: { size: 36, weight: 'bold' },
                callback: (v) => (k > 0 && v === 5 ? '' : v),
            },
            grid: { display: true, drawOnChartArea: false, drawTicks: true, tickLength: 20, tickWidth: 3, tickColor: '#000' },
            border: { display: false },
            title: { display: true, text: ['DOS', '(electrons/eV)'], color: '#000', font: { size: 48, weight: 'bold', lineHeight: 1.35 }, padding: { top: 19, bottom: 0 } },
            afterFit: (s) => { s.width = 215; },
        };
    });

    new Chart(document.getElementById(col.id), {
        type: 'line',
        data: { datasets },
        options: {
            responsive: true,
            maintainAspectRatio: false,
            animation: false,
            events: [],
            layout: { padding: { top: 0, bottom: 0, left: 0, right: 20 } },
            plugins: { legend: { display: false }, tooltip: { enabled: false }, panelDecor: { col } },
            scales,
        },
        plugins: [panelDecor],
    });
}

columns.forEach(buildChart);
</script>
</body>
</html>
